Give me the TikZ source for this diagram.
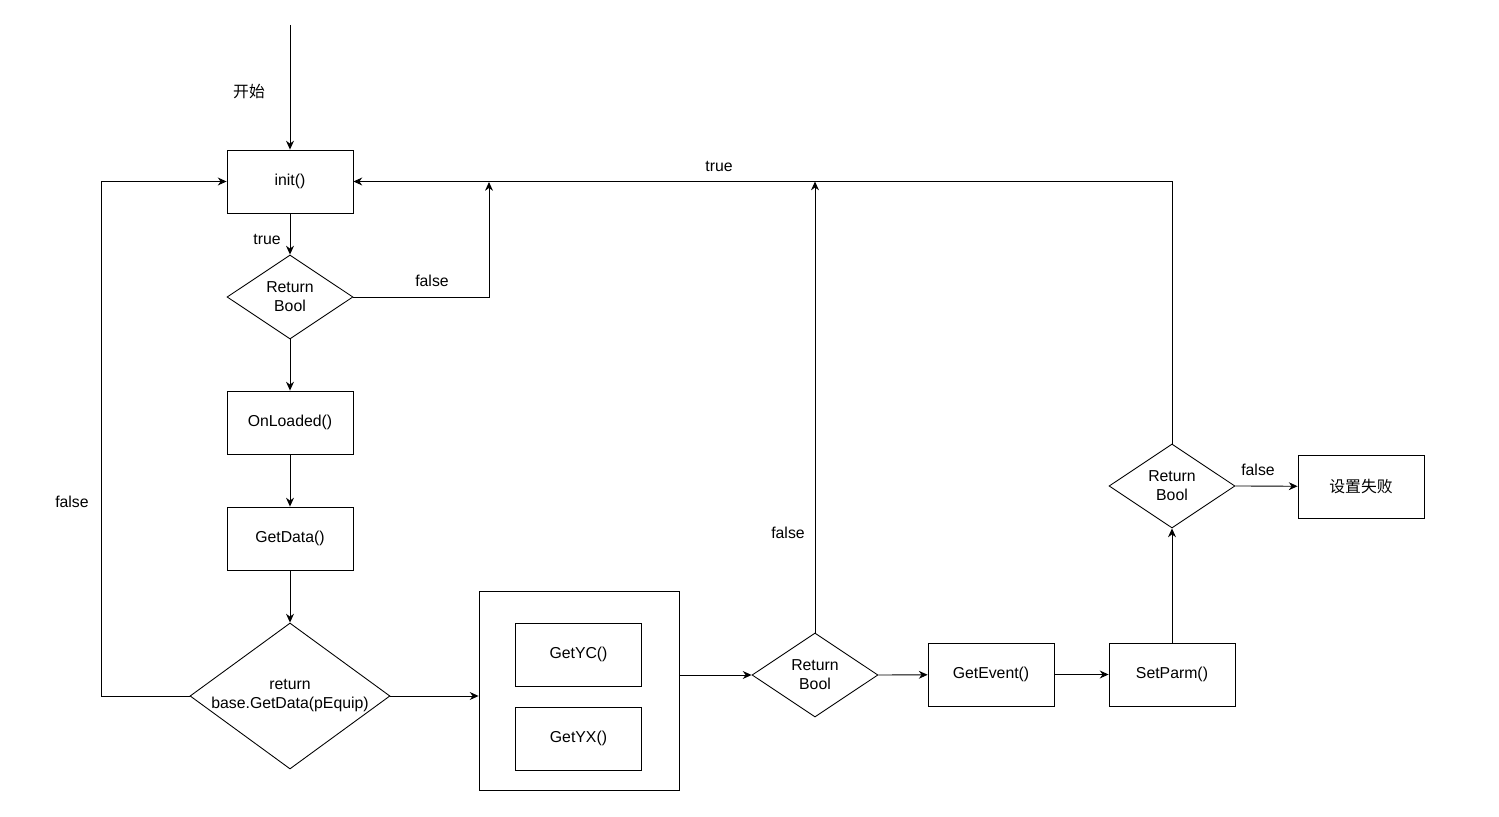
\documentclass[tikz,border=0pt]{standalone}
\usepackage{fontspec}
\setmainfont{Liberation Sans}
\newfontfamily\cjk{Noto Sans CJK SC}
\usetikzlibrary{arrows.meta,positioning,calc,shapes.geometric}

\tikzset{
  box/.style={draw,line width=0.5pt,minimum width=2.52cm,minimum height=1.26cm,inner sep=0pt},
  decision/.style={draw,diamond,line width=0.5pt,minimum width=2.52cm,minimum height=1.68cm,inner sep=0pt,align=center},
  flow/.style={->,line width=0.5pt},
}

\begin{document}
\begin{tikzpicture}[x=0.02cm,y=-0.02cm,>={Stealth[length=5pt,width=4.5pt]},font=\fontsize{9}{10.8}\selectfont]
    \useasboundingbox (0,0) rectangle (1499,817);

    % main column
    \coordinate (start) at (290,25);
    \node[box] (init) at (290,181.5) {init()};
    \node[decision] (ret1) at (290,297) {Return\\Bool};
    \node[box] (loaded) at (290,422.5) {OnLoaded()};
    \node[box] (getdata) at (290,538.5) {GetData()};
    \node[decision,minimum width=4cm,minimum height=2.92cm,
      label={[align=center]center:return\\base.GetData(pEquip)}] (chk) at (290,696) {};

    % group box
    \node[draw,line width=0.5pt,minimum width=4cm,minimum height=3.98cm] (grp) at (579,690.5) {};
    \node[box] (getyc) at (578.5,654.5) {GetYC()};
    \node[box] (getyx) at (578.5,738.5) {GetYX()};

    % bottom row
    \node[decision] (ret2) at (815,675) {Return\\Bool};
    \node[box] (event) at (991,674.5) {GetEvent()};
    \node[box] (setparm) at (1172,674.5) {SetParm()};
    \node[decision] (ret3) at (1172,486) {Return\\Bool};
    \node[box] (fail) at (1361,486.5) {\cjk 设置失败};

    \coordinate (j1) at (489,182);
    \coordinate (j2) at (101,696);

    \draw[flow] (start) -- (init.north);
    \node (lstart) at (249,92) {\cjk 开始};
    \draw[flow] (init) -- (ret1.north);
    \node (ltrue1) at (267,239) {true};
    \draw[flow] (ret1.east) -| (j1);
    \node (lfalse1) at (432,281) {false};
    \draw[flow] (ret1.south) -- (loaded);
    \draw[flow] (loaded) -- (getdata);
    \draw[flow] (getdata) -- (chk.north);
    \draw[flow] (chk.west) -- (j2) |- (init.west);
    \node (lfalse2) at (72,502) {false};
    \draw[flow] (chk.east) -- (chk.east -| grp.west);
    \draw[flow] (grp.east |- ret2.west) -- (ret2.west);
    \draw[flow] (ret2.north) -- (ret2.north |- init.east);
    \node (lfalse3) at (788,533) {false};
    \draw[flow] (ret2.east) -- (event);
    \draw[flow] (event) -- (setparm);
    \draw[flow] (setparm) -- (ret3.south);
    \draw[flow] (ret3.east) -- (fail);
    \node (lfalse4) at (1258,470) {false};
    \draw[flow] (ret3.north) |- (init.east);
    \node (ltrue2) at (719,166) {true};
\end{tikzpicture}
\end{document}
